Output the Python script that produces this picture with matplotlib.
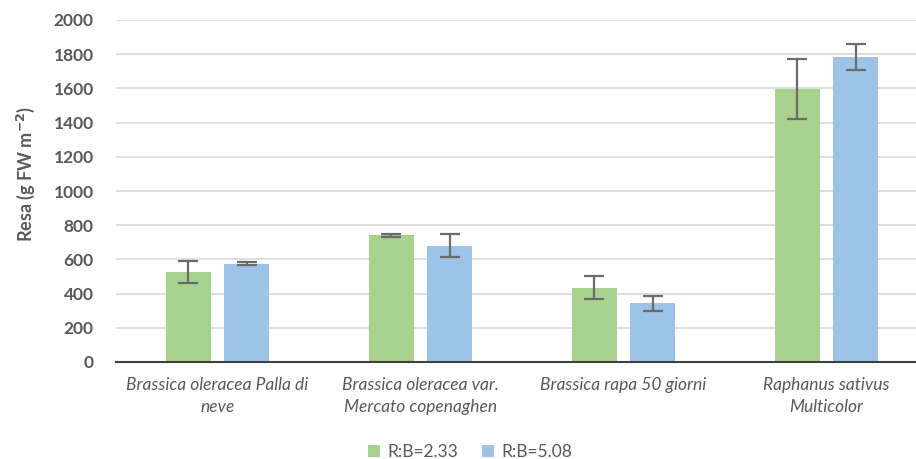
import matplotlib.pyplot as plt
import numpy as np

categories = [
    "Brassica oleracea Palla di\nneve",
    "Brassica oleracea var.\nMercato copenaghen",
    "Brassica rapa 50 giorni",
    "Raphanus sativus\nMulticolor",
]
series_names = ["R:B=2.33", "R:B=5.08"]
resa_233 = [525, 741, 435, 1596]
err_233 = [63, 8, 67, 175]
resa_508 = [575, 680, 343, 1786]
err_508 = [8, 66, 42, 76]

green = "#A9D18E"
blue = "#9DC3E6"
grey = "#595959"

plt.rcParams["font.family"] = ["Lato", "DejaVu Sans"]

fig = plt.figure(figsize=(9.16, 4.59), dpi=100)
ax = fig.add_axes([116 / 916, 1 - 362 / 459, 812 / 916, 342 / 459])

x = np.arange(len(categories))
w = 0.222
off = 0.143
err_kw = dict(ecolor="#6b6b6b", elinewidth=1.6, capsize=7, capthick=1.6)
ax.bar(x - off, resa_233, w, yerr=err_233, color=green, label=series_names[0],
       error_kw=err_kw, zorder=2)
ax.bar(x + off, resa_508, w, yerr=err_508, color=blue, label=series_names[1],
       error_kw=err_kw, zorder=2)

ax.set_xlim(-0.5, len(categories) - 0.5)
ax.set_ylim(0, 2000)
ax.set_yticks(range(0, 2001, 200))
ax.yaxis.grid(True, color="#D9D9D9", linewidth=1.2, zorder=0)
ax.set_axisbelow(True)
for s in ["top", "right", "left"]:
    ax.spines[s].set_visible(False)
ax.spines["bottom"].set_color("#404040")
ax.spines["bottom"].set_linewidth(1.5)
ax.spines["bottom"].set_zorder(3)

ax.tick_params(axis="y", length=0, pad=16, labelsize=12.5, labelcolor=grey)
for lbl in ax.get_yticklabels():
    lbl.set_fontweight("bold")
ax.set_xticks(x)
ax.set_xticklabels(categories, style="italic", fontsize=12.5, color=grey,
                   linespacing=1.45)
ax.tick_params(axis="x", length=0, pad=11)

fig.text(0.028, 1 - 174 / 459, "Resa (g FW m$^{\\mathbf{-2}}$)", rotation=90,
         ha="center", va="center", fontsize=13, fontweight="bold", color=grey)

fig.legend(loc="center", bbox_to_anchor=(0.513, 1 - 452 / 459), ncol=2,
           frameon=False, fontsize=12.5, labelcolor=grey, handlelength=0.7,
           handleheight=0.7, handletextpad=0.4, columnspacing=1.4)

fig.savefig("out.png", dpi=100)
